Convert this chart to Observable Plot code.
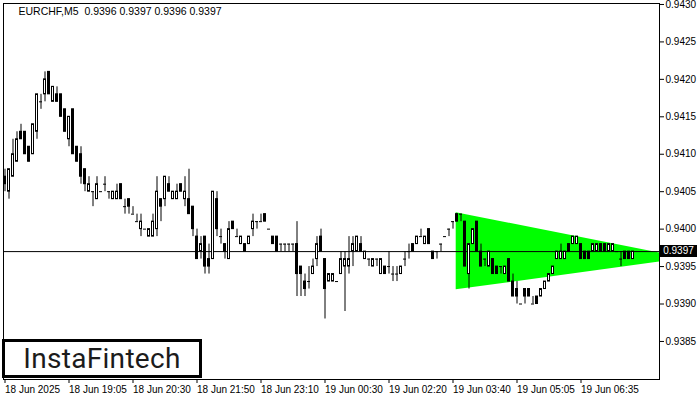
<!DOCTYPE html>
<html><head><meta charset="utf-8">
<script src="https://cdn.jsdelivr.net/npm/d3@7"></script>
<script src="https://cdn.jsdelivr.net/npm/@observablehq/plot@0.6"></script>
<style>
html,body{margin:0;padding:0;background:#fff;}
#wrap{position:relative;width:700px;height:400px;overflow:hidden;}
#logo{position:absolute;left:2px;top:339px;width:194px;height:33px;border:3px solid #000;background:#fff;font-family:Roboto,"Open Sans",sans-serif;font-size:28px;font-weight:400;color:#1b1b1b;display:flex;align-items:center;justify-content:center;letter-spacing:0.3px;}
#last{position:absolute;left:660px;width:37px;height:12px;background:#000;color:#fff;font:10px "Liberation Sans",Arial,sans-serif;line-height:12px;text-align:center;}
</style></head><body><div id="wrap"></div>
<script>
const title = "EURCHF,M5\u00a0\u00a00.9396 0.9397 0.9396 0.9397";
const lastPrice = 0.9397;
const xTickIdx = [0,16,32,48,64,80,96,112,128,144];
const xTickLabels = ["18 Jun 2025","18 Jun 19:05","18 Jun 20:30","18 Jun 21:50","18 Jun 23:10","19 Jun 00:30","19 Jun 02:20","19 Jun 03:40","19 Jun 05:05","19 Jun 06:35"];
const yTicks = [0.9385,0.9390,0.9395,0.9400,0.9405,0.9410,0.9415,0.9420,0.9425,0.9430];

const open = [
0.9407,0.9405,0.9407,0.9409,0.9413,0.9413,0.9411,0.9410,0.9413,0.9417,
0.9418,0.9421,0.9417,0.9418,0.9418,0.9416,0.9412,0.9416,0.9411,0.9410,
0.9408,0.9405,0.9405,0.9404,0.9405,0.9406,0.9405,0.9404,0.9404,0.9406,
0.9403,0.9404,0.9402,0.9401,0.9400,0.9400,0.9399,0.9399,0.9400,0.9404,
0.9404,0.9406,0.9404,0.9404,0.9406,0.9404,0.9404,0.9403,0.9399,0.9397,
0.9399,0.9396,0.9396,0.9404,0.9399,0.9398,0.9396,0.9401,0.9399,0.9398,
0.9398,0.9398,0.9400,0.9401,0.9401,0.9402,0.9400,0.9399,0.9399,0.9398,
0.9398,0.9398,0.9398,0.9398,0.9395,0.9393,0.9393,0.9394,0.9396,0.9399,
0.9396,0.9393,0.9393,0.9393,0.9394,0.9395,0.9395,0.9397,0.9397,0.9398,
0.9396,0.9396,0.9395,0.9396,0.9394,0.9395,0.9395,0.9394,0.9394,0.9394,
0.9396,0.9397,0.9398,0.9398,0.9399,0.9398,0.9400,0.9397,0.9397,0.9398,
0.9399,0.9400,0.9401,0.9402,0.9402,0.9401,0.9394,0.9398,0.9401,0.9397,
0.9396,0.9395,0.9396,0.9395,0.9395,0.9394,0.9396,0.9393,0.9392,0.9390,
0.9392,0.9392,0.9390,0.9391,0.9391,0.9392,0.9393,0.9394,0.9396,0.9396,
0.9396,0.9398,0.9398,0.9398,0.9398,0.9397,0.9397,0.9397,0.9397,0.9398,
0.9398,0.9397,0.9397,0.9397,0.9396,0.9397,0.9397,0.9396];
const high = [
0.9408,0.9408,0.9412,0.9413,0.9414,0.9413,0.9411,0.9414,0.9418,0.9418,
0.9421,0.9421,0.9419,0.9419,0.9418,0.9416,0.9415,0.9416,0.9411,0.9411,
0.9408,0.9407,0.9405,0.9407,0.9405,0.9407,0.9405,0.9405,0.9406,0.9406,
0.9404,0.9404,0.9403,0.9402,0.9402,0.9400,0.9400,0.9402,0.9407,0.9404,
0.9407,0.9407,0.9405,0.9406,0.9406,0.9407,0.9408,0.9403,0.9400,0.9399,
0.9399,0.9398,0.9405,0.9405,0.9400,0.9398,0.9401,0.9401,0.9400,0.9399,
0.9398,0.9399,0.9402,0.9401,0.9402,0.9402,0.9400,0.9399,0.9399,0.9398,
0.9398,0.9398,0.9398,0.9401,0.9395,0.9394,0.9395,0.9396,0.9399,0.9400,
0.9396,0.9394,0.9394,0.9393,0.9397,0.9397,0.9399,0.9399,0.9399,0.9399,
0.9397,0.9396,0.9396,0.9396,0.9396,0.9395,0.9397,0.9395,0.9395,0.9395,
0.9397,0.9398,0.9398,0.9399,0.9400,0.9399,0.9400,0.9397,0.9397,0.9398,
0.9399,0.9400,0.9401,0.9402,0.9402,0.9401,0.9398,0.9400,0.9401,0.9398,
0.9396,0.9397,0.9396,0.9395,0.9395,0.9395,0.9396,0.9394,0.9393,0.9390,
0.9392,0.9392,0.9391,0.9391,0.9392,0.9393,0.9394,0.9395,0.9397,0.9398,
0.9397,0.9398,0.9399,0.9399,0.9398,0.9397,0.9397,0.9398,0.9398,0.9398,
0.9398,0.9398,0.9398,0.9397,0.9397,0.9397,0.9397,0.9397];
const low = [
0.9405,0.9404,0.9407,0.9409,0.9412,0.9410,0.9409,0.9410,0.9412,0.9416,
0.9417,0.9418,0.9417,0.9417,0.9415,0.9413,0.9411,0.9410,0.9409,0.9406,
0.9405,0.9405,0.9403,0.9404,0.9405,0.9405,0.9404,0.9404,0.9404,0.9404,
0.9402,0.9402,0.9402,0.9401,0.9399,0.9400,0.9399,0.9399,0.9399,0.9401,
0.9403,0.9405,0.9404,0.9404,0.9405,0.9403,0.9402,0.9399,0.9396,0.9396,
0.9394,0.9394,0.9396,0.9399,0.9398,0.9396,0.9396,0.9400,0.9399,0.9398,
0.9397,0.9398,0.9399,0.9400,0.9401,0.9401,0.9400,0.9398,0.9397,0.9397,
0.9397,0.9397,0.9397,0.9391,0.9391,0.9391,0.9392,0.9394,0.9395,0.9397,
0.9388,0.9393,0.9393,0.9393,0.9394,0.9389,0.9394,0.9395,0.9397,0.9397,
0.9396,0.9395,0.9395,0.9395,0.9394,0.9394,0.9394,0.9393,0.9393,0.9394,
0.9395,0.9396,0.9397,0.9398,0.9399,0.9398,0.9398,0.9396,0.9396,0.9397,
0.9399,0.9399,0.9400,0.9401,0.9401,0.9395,0.9392,0.9398,0.9397,0.9395,
0.9395,0.9395,0.9394,0.9394,0.9394,0.9394,0.9393,0.9391,0.9390,0.9390,
0.9390,0.9391,0.9390,0.9390,0.9391,0.9392,0.9393,0.9394,0.9396,0.9396,
0.9396,0.9397,0.9398,0.9398,0.9396,0.9396,0.9396,0.9397,0.9397,0.9397,
0.9397,0.9397,0.9397,0.9397,0.9395,0.9396,0.9396,0.9396];
const close = [
0.9406,0.9408,0.9410,0.9412,0.9412,0.9410,0.9409,0.9414,0.9418,0.9417,
0.9420,0.9418,0.9419,0.9417,0.9415,0.9413,0.9415,0.9410,0.9409,0.9407,
0.9406,0.9406,0.9405,0.9406,0.9405,0.9406,0.9405,0.9405,0.9405,0.9404,
0.9403,0.9403,0.9402,0.9401,0.9401,0.9400,0.9400,0.9401,0.9405,0.9403,
0.9407,0.9405,0.9405,0.9405,0.9405,0.9405,0.9402,0.9400,0.9396,0.9398,
0.9395,0.9395,0.9405,0.9400,0.9399,0.9397,0.9400,0.9400,0.9399,0.9399,
0.9397,0.9399,0.9401,0.9401,0.9401,0.9401,0.9400,0.9398,0.9397,0.9398,
0.9398,0.9398,0.9398,0.9394,0.9394,0.9392,0.9393,0.9395,0.9398,0.9397,
0.9392,0.9394,0.9394,0.9393,0.9396,0.9396,0.9396,0.9398,0.9399,0.9397,
0.9397,0.9396,0.9396,0.9396,0.9396,0.9394,0.9395,0.9394,0.9394,0.9395,
0.9396,0.9397,0.9397,0.9399,0.9399,0.9399,0.9398,0.9396,0.9397,0.9398,
0.9399,0.9400,0.9401,0.9401,0.9402,0.9395,0.9398,0.9400,0.9397,0.9395,
0.9396,0.9397,0.9394,0.9394,0.9395,0.9395,0.9393,0.9391,0.9391,0.9390,
0.9391,0.9391,0.9390,0.9390,0.9392,0.9393,0.9394,0.9395,0.9397,0.9397,
0.9397,0.9397,0.9399,0.9399,0.9396,0.9396,0.9396,0.9398,0.9398,0.9397,
0.9397,0.9398,0.9398,0.9397,0.9396,0.9396,0.9396,0.9397];

// symmetrical triangle pattern (bar index, upper and lower boundary prices)
const patternX = [112.8, 170.5];
const patternUpper = [0.94022, 0.93961];
const patternLower = [0.93919, 0.93961];

const bars = open.map((o, i) => ({i, o, h: high[i], l: low[i], c: close[i]}));
const pattern = patternX.map((x, k) => ({x, hi: patternUpper[k], lo: patternLower[k]}));
const labelOf = new Map(xTickIdx.map((d, k) => [d, xTickLabels[k]]));

const chart = Plot.plot({
  width: 700, height: 400,
  marginLeft: 3, marginRight: 41, marginTop: 3, marginBottom: 21,
  style: {fontFamily: '"Liberation Sans", Arial, sans-serif', fontSize: "10px", background: "#fff", color: "#000", overflow: "visible"},
  x: {domain: [-0.375, 163.625], axis: null},
  y: {domain: [0.937992, 0.943013], axis: null},
  marks: [
    Plot.areaY(pattern, {x: "x", y1: "lo", y2: "hi", fill: "#00ff00", fillOpacity: 1, clip: true}),
    Plot.ruleY([lastPrice], {stroke: "#000", strokeWidth: 1}),
    Plot.ruleX(bars, {x: "i", y1: "l", y2: "h", stroke: "#000", strokeWidth: 1}),
    Plot.rect(bars.filter(d => d.c > d.o), {x1: d => d.i - 0.25, x2: d => d.i + 0.25, y1: "o", y2: "c", fill: "#fff", stroke: "#000", strokeWidth: 1}),
    Plot.rect(bars.filter(d => d.c < d.o), {x1: d => d.i - 0.25, x2: d => d.i + 0.25, y1: "o", y2: "c", fill: "#000", stroke: "#000", strokeWidth: 1}),
    Plot.ruleY(bars.filter(d => d.c === d.o), {x1: d => d.i - 0.375, x2: d => d.i + 0.375, y: "o", stroke: "#000", strokeWidth: 1}),
    Plot.frame({stroke: "#000", strokeWidth: 1}),
    Plot.axisX({anchor: "bottom", ticks: xTickIdx, tickFormat: d => labelOf.get(d), tickSize: 4, tickPadding: 2, textAnchor: "start", fontSize: 10}),
    Plot.axisY({anchor: "right", ticks: yTicks, tickFormat: d => d.toFixed(4), tickSize: 4, tickPadding: 2, fontSize: 10}),
    Plot.text([title], {frameAnchor: "top-left", dx: 15, dy: 4, lineAnchor: "top", textAnchor: "start", fontSize: 10.5, fill: "#000"})
  ]
});
const wrap = document.getElementById("wrap");
wrap.appendChild(chart);

const yPix = chart.scale("y").apply(lastPrice);
const last = document.createElement("div");
last.id = "last";
last.textContent = lastPrice.toFixed(4);
last.style.top = (yPix - 6) + "px";
wrap.appendChild(last);

const logo = document.createElement("div");
logo.id = "logo";
logo.textContent = "InstaFintech";
wrap.appendChild(logo);
</script></body></html>
